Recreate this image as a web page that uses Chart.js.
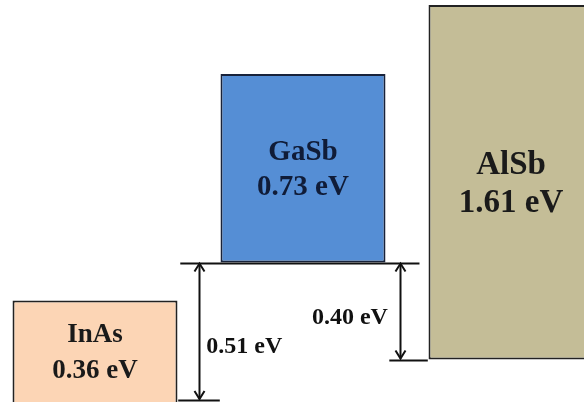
<!DOCTYPE html>
<html>
<head>
<meta charset="utf-8">
<script src="https://cdn.jsdelivr.net/npm/chart.js@4/dist/chart.umd.min.js"></script>
<style>
    html, body { margin: 0; padding: 0; background: #fff; overflow: hidden; }
    .wrap { position: relative; width: 584px; height: 402px; overflow: hidden; }
    #bandChart { position: absolute; left: -9px; top: 0; }
</style>
</head>
<body>
<div class="wrap">
    <canvas id="bandChart" width="624" height="402"></canvas>
</div>
<script>
//------------------------------------------------------------
// band alignment, levels read off the (schematic) diagram
const materials = ['InAs', 'GaSb', 'AlSb'];
const bandGaps = [0.36, 0.73, 1.61];
const valenceEdge = [-0.1, 0.555, 0.169];
const conductionEdge = [0.404, 1.305, 1.580];
const fillColors = ['#FCD5B5', '#558ED5', '#C4BD97'];
const borderColors = ['#222222', '#18223a', '#222222'];
const textColors = ['#1a1a1a', '#101c38', '#1a1a1a'];
const labelFontSizes = [27, 29, 33];
const labelLineGaps = [36, 35, 38];

// offsets between levels (eV), drawn as double arrows
const offsetLabels = ['0.51 eV', '0.40 eV'];
const offsetTop = [0.555, 0.555];
const offsetBottom = [0.008, 0.169];

//------------------------------------------------------------
const fontFamily = '"Liberation Serif", "Times New Roman", serif';

function drawArrowHead(ctx, x, y, dir) {
    ctx.beginPath();
    ctx.moveTo(x - 5, y + dir * 8);
    ctx.lineTo(x, y);
    ctx.lineTo(x + 5, y + dir * 8);
    ctx.stroke();
}

function hLine(ctx, xs, v, from, to) {
    const { x, y } = xs;
    const py = Math.round(y.getPixelForValue(v)) + 0.5;
    ctx.beginPath();
    ctx.moveTo(x.getPixelForValue(from), py);
    ctx.lineTo(x.getPixelForValue(to), py);
    ctx.stroke();
}

//----------------------------------
const bandPlugin = {
    id: 'bandPlugin',
    afterDatasetsDraw(chart) {
        const ctx = chart.ctx;
        const x = chart.scales.x;
        const y = chart.scales.y;
        const area = chart.chartArea;

        ctx.save();
        ctx.strokeStyle = '#111';
        ctx.lineWidth = 2;

        // level lines
        hLine(ctx, { x, y }, offsetTop[0], 0.410, 1.560);
        hLine(ctx, { x, y }, offsetBottom[0], 0.400, 0.600);
        hLine(ctx, { x, y }, offsetBottom[1], 1.415, 1.600);

        // double arrows
        const arrowAt = [0.5, 1.467];
        const labelAt = [0.535, 1.043];
        const labelBaseline = [0.195, 0.310];
        offsetLabels.forEach((label, i) => {
            const px = Math.round(x.getPixelForValue(arrowAt[i])) + 0.5;
            const top = y.getPixelForValue(offsetTop[i]) + 1;
            const bottom = y.getPixelForValue(offsetBottom[i]) - 1;
            ctx.beginPath();
            ctx.moveTo(px, top);
            ctx.lineTo(px, bottom);
            ctx.stroke();
            drawArrowHead(ctx, px, top, 1);
            drawArrowHead(ctx, px, bottom, -1);

            ctx.fillStyle = '#111';
            ctx.font = 'bold 24px ' + fontFamily;
            ctx.textAlign = 'left';
            ctx.textBaseline = 'alphabetic';
            ctx.fillText(label, x.getPixelForValue(labelAt[i]), y.getPixelForValue(labelBaseline[i]));
        });

        // material names and gaps inside the boxes
        materials.forEach((name, i) => {
            const cx = x.getPixelForValue(i);
            const top = y.getPixelForValue(conductionEdge[i]);
            const bottom = Math.min(y.getPixelForValue(valenceEdge[i]), area.bottom);
            const mid = (top + bottom) / 2;
            const size = labelFontSizes[i];
            const gap = labelLineGaps[i];
            const cap = size * 0.33;
            ctx.fillStyle = textColors[i];
            ctx.font = 'bold ' + size + 'px ' + fontFamily;
            ctx.textAlign = 'center';
            ctx.textBaseline = 'alphabetic';
            ctx.fillText(name, cx, mid - gap / 2 + cap);
            ctx.fillText(bandGaps[i].toFixed(2) + ' eV', cx, mid + gap / 2 + cap);
        });

        ctx.restore();
    }
};

//------------------------------------------------------------
const context = document.getElementById('bandChart').getContext('2d');

new Chart(context, {
    type: 'bar',
    data: {
        labels: materials,
        datasets: [
            {
                data: materials.map((m, i) => [valenceEdge[i], conductionEdge[i]]),
                backgroundColor: fillColors,
                borderColor: borderColors,
                borderWidth: 2,
                borderSkipped: false,
                barPercentage: 165 / 208,
                categoryPercentage: 1,
            },
        ],
    },
    options: {
        responsive: false,
        animation: false,
        devicePixelRatio: 1,
        layout: { padding: 0 },
        plugins: {
            legend: { display: false },
            tooltip: { enabled: false },
        },
        scales: {
            x: { display: false },
            y: { display: false, min: 0, max: 1.6 },
        },
    },
    plugins: [bandPlugin],
});
</script>
</body>
</html>
